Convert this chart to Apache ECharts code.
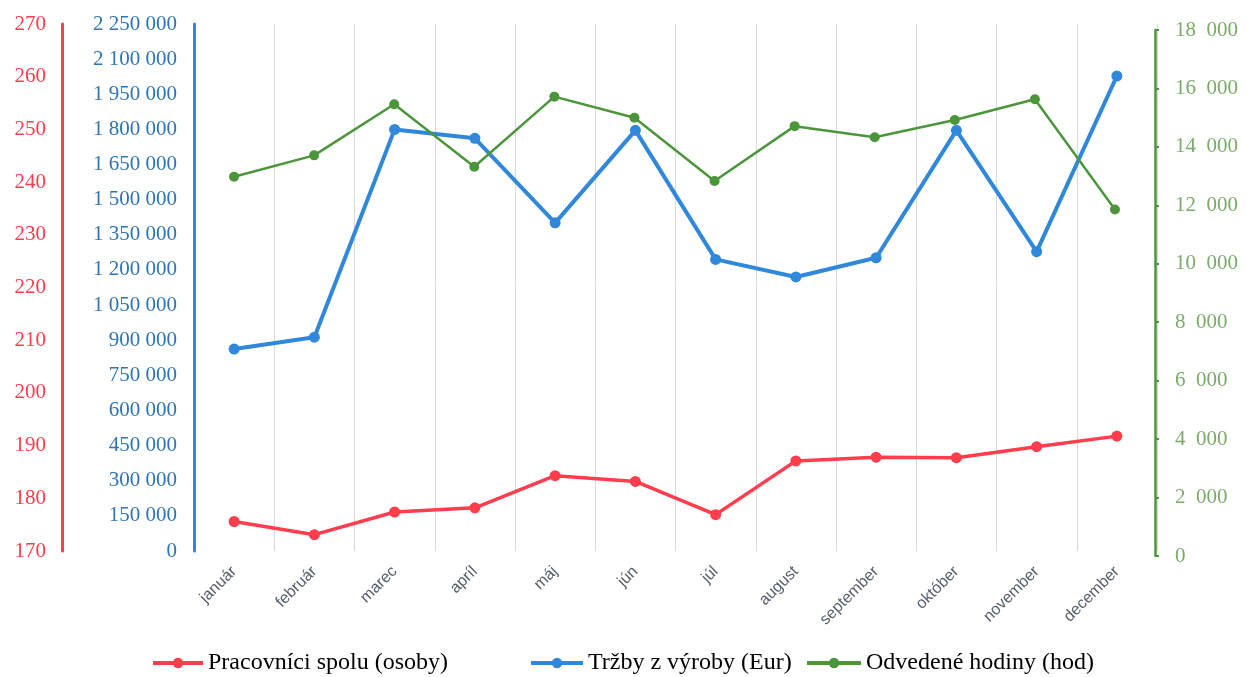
<!DOCTYPE html>
<html>
<head>
<meta charset="utf-8">
<title>Pracovníci, tržby a odvedené hodiny</title>
<script src="https://cdn.jsdelivr.net/npm/echarts@6/dist/echarts.min.js"></script>
<style>
  html, body { margin: 0; padding: 0; background: #fff; }
  #chart { width: 1247px; height: 677px; }
</style>
</head>
<body>
<div id="chart"></div>
<script>
const months = ["január", "február", "marec", "apríl", "máj", "jún", "júl", "august", "september", "október", "november", "december"];
const workers = [175.6, 173.1, 177.4, 178.2, 184.3, 183.2, 176.9, 187.1, 187.8, 187.7, 189.8, 191.8];
const revenue = [862000, 913000, 1800000, 1762000, 1401000, 1796000, 1245000, 1170000, 1252000, 1796000, 1278000, 2028000];
const hours = [12980, 13710, 15460, 13320, 15720, 15000, 12830, 14710, 14330, 14920, 15630, 11860];

const RED = "#ff3d4d";
const BLUE = "#2f88dc";
const GREEN = "#4b963a";

// thousands grouped with a space, like "2 250 000"
function spaced(sep) {
  return function (v) {
    return String(v).replace(/\B(?=(\d{3})+(?!\d))/g, sep);
  };
}

const legendText = { fontFamily: "Liberation Serif", fontSize: 24, color: "#000" };
const legendLine = { width: 4 };

const chart = echarts.init(document.getElementById("chart"));

chart.setOption({
  animation: false,
  // main grid for red/blue, second grid for the green axis which sits a few px lower
  grid: [
    { left: 194, right: 90, top: 24, bottom: 126 },
    { left: 194, right: 92, top: 30, bottom: 121 }
  ],
  legend: [
    { data: ["Pracovníci spolu (osoby)"], left: 146, top: 646, itemWidth: 50, itemHeight: 13, lineStyle: legendLine, textStyle: legendText },
    { data: ["Tržby z výroby (Eur)"], left: 524, top: 646, itemWidth: 52, itemHeight: 13, lineStyle: legendLine, textStyle: legendText },
    { data: ["Odvedené hodiny (hod)"], left: 800, top: 646, itemWidth: 54, itemHeight: 13, lineStyle: legendLine, textStyle: legendText }
  ],
  xAxis: [
    {
      type: "category",
      gridIndex: 0,
      data: months,
      boundaryGap: true,
      axisLine: { show: false },
      axisTick: { show: false },
      splitLine: { show: true, interval: 0, lineStyle: { color: "#d9d9d9", width: 1 } },
      axisLabel: {
        rotate: 45,
        interval: 0,
        margin: 18,
        color: "#55606c",
        fontFamily: "Liberation Sans",
        fontSize: 16
      }
    },
    {
      type: "category",
      gridIndex: 1,
      data: months,
      boundaryGap: true,
      show: false
    }
  ],
  yAxis: [
    {
      type: "value",
      gridIndex: 0,
      position: "left",
      offset: 132,
      min: 170, max: 270, interval: 10,
      axisLine: { show: true, lineStyle: { color: RED, width: 3 } },
      axisTick: { show: false },
      splitLine: { show: false },
      axisLabel: { color: RED, fontFamily: "Liberation Serif", fontSize: 21, margin: 16 }
    },
    {
      type: "value",
      gridIndex: 0,
      position: "left",
      offset: 0,
      min: 0, max: 2250000, interval: 150000,
      axisLine: { show: true, lineStyle: { color: BLUE, width: 3 } },
      axisTick: { show: false },
      splitLine: { show: false },
      axisLabel: {
        color: "#2e75b6", fontFamily: "Liberation Serif", fontSize: 21, margin: 17,
        formatter: spaced(" ")
      }
    },
    {
      type: "value",
      gridIndex: 1,
      position: "right",
      min: 0, max: 18000, interval: 2000,
      axisLine: { show: true, lineStyle: { color: GREEN, width: 2.5 } },
      axisTick: { show: true, length: 4, lineStyle: { color: GREEN, width: 2 } },
      splitLine: { show: false },
      axisLabel: {
        color: "#7aab68", fontFamily: "Liberation Serif", fontSize: 21, margin: 20,
        formatter: spaced("\u2007")
      }
    }
  ],
  series: [
    {
      name: "Pracovníci spolu (osoby)",
      type: "line",
      xAxisIndex: 0,
      yAxisIndex: 0,
      data: workers,
      symbol: "circle",
      symbolSize: 11,
      lineStyle: { color: RED, width: 3.5 },
      itemStyle: { color: RED }
    },
    {
      name: "Tržby z výroby (Eur)",
      type: "line",
      xAxisIndex: 0,
      yAxisIndex: 1,
      data: revenue,
      symbol: "circle",
      symbolSize: 11,
      lineStyle: { color: BLUE, width: 4 },
      itemStyle: { color: BLUE }
    },
    {
      name: "Odvedené hodiny (hod)",
      type: "line",
      xAxisIndex: 1,
      yAxisIndex: 2,
      data: hours,
      symbol: "circle",
      symbolSize: 10,
      lineStyle: { color: GREEN, width: 2.5 },
      itemStyle: { color: GREEN }
    }
  ]
});
</script>
</body>
</html>
